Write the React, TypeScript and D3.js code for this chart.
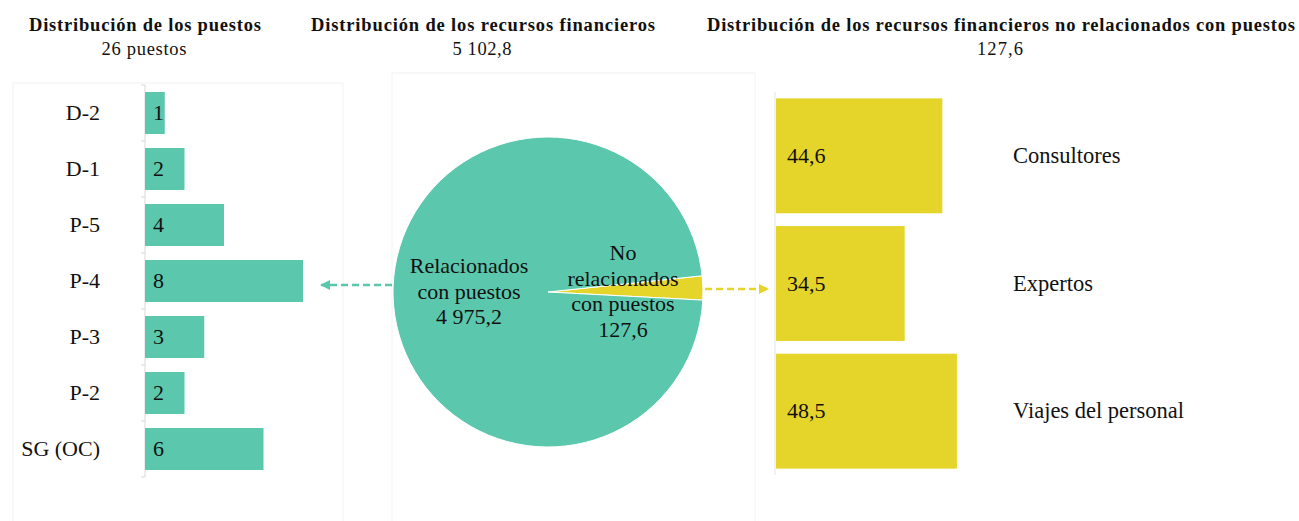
import React, { useEffect, useRef } from "react";
import * as d3 from "d3";

// Left panel: posts by grade
const gradeLabels = ["D-2", "D-1", "P-5", "P-4", "P-3", "P-2", "SG (OC)"];
const gradeCounts = [1, 2, 4, 8, 3, 2, 6];

// Middle panel: financial resources
const pieLabels = [
  ["No", "relacionados", "con puestos"],
  ["Relacionados", "con puestos"],
];
const pieValues = [127.6, 4975.2];

// Right panel: non-post resources
const costLabels = ["Consultores", "Expertos", "Viajes del personal"];
const costValues = [44.6, 34.5, 48.5];

// Panel headings
const panelTitles = [
  "Distribución de los puestos",
  "Distribución de los recursos financieros",
  "Distribución de los recursos financieros no relacionados con puestos",
];
const panelSubtitles = ["26 puestos", "5 102,8", "127,6"];

const TEAL = "#5bc8ad";
const YELLOW = "#e5d52a";
const FONT = "'Liberation Serif', 'Times New Roman', serif";

const esLocale = d3.formatLocale({
  decimal: ",",
  thousands: " ",
  grouping: [3],
  currency: ["", ""],
});
const fmt = esLocale.format(",.1f");

export default function App() {
  const ref = useRef<SVGSVGElement | null>(null);

  useEffect(() => {
    const w = 1299;
    const h = 521;
    const svg = d3.select(ref.current).html("").attr("width", w).attr("height", h);
    svg.style("font-family", FONT);

    svg.append("rect").attr("width", w).attr("height", h).attr("fill", "#fff");

    // faint panel frames
    const frames = svg.append("g").attr("fill", "none").attr("stroke", "#f2f2f2").attr("stroke-width", 1);
    frames.append("rect").attr("x", 13).attr("y", 83).attr("width", 330).attr("height", 450);
    frames.append("rect").attr("x", 392).attr("y", 73).attr("width", 363).attr("height", 460);

    // arrow markers
    const defs = svg.append("defs");
    [["arrTeal", TEAL], ["arrYellow", YELLOW]].forEach(([id, c]) => {
      defs
        .append("marker")
        .attr("id", id)
        .attr("viewBox", "0 0 10 10")
        .attr("refX", 9)
        .attr("refY", 5)
        .attr("markerWidth", 4)
        .attr("markerHeight", 4)
        .attr("orient", "auto")
        .append("path")
        .attr("d", "M0,0 L10,5 L0,10 z")
        .attr("fill", c);
    });

    // Titles
    const centers = [145, 483, 1001];
    const titleWidths = [232, 344, 588];
    const subWidths = [85, 59, 46];
    panelTitles.forEach((t, i) => {
      svg
        .append("text")
        .attr("x", centers[i])
        .attr("y", 31)
        .attr("text-anchor", "middle")
        .attr("font-size", 18.5)
        .attr("font-weight", "bold")
        .attr("fill", "#111")
        .attr("textLength", titleWidths[i])
        .attr("lengthAdjust", "spacing")
        .text(t);
      svg
        .append("text")
        .attr("x", centers[i] - 1)
        .attr("y", 55)
        .attr("text-anchor", "middle")
        .attr("font-size", 18.5)
        .attr("fill", "#111")
        .attr("textLength", subWidths[i])
        .attr("lengthAdjust", "spacing")
        .text(panelSubtitles[i]);
    });

    // ---- Left bar chart
    const xL = d3.scaleLinear().domain([0, d3.max(gradeCounts) as number]).range([145, 303]);
    const yL = d3
      .scaleBand<string>()
      .domain(gradeLabels)
      .range([85, 477])
      .paddingInner(0.25)
      .paddingOuter(0.125);

    const left = svg.append("g");
    left
      .append("line")
      .attr("x1", 145)
      .attr("x2", 145)
      .attr("y1", 85)
      .attr("y2", 477)
      .attr("stroke", "#d9d9d9");
    d3.range(gradeLabels.length + 1).forEach((i) => {
      const y = 85 + i * yL.step();
      left.append("line").attr("x1", 141).attr("x2", 145).attr("y1", y).attr("y2", y).attr("stroke", "#d9d9d9");
    });

    left
      .selectAll("rect.bar")
      .data(gradeCounts)
      .join("rect")
      .attr("class", "bar")
      .attr("x", xL(0))
      .attr("y", (_, i) => yL(gradeLabels[i]) as number)
      .attr("width", (d) => xL(d) - xL(0))
      .attr("height", yL.bandwidth())
      .attr("fill", TEAL);

    left
      .selectAll("text.val")
      .data(gradeCounts)
      .join("text")
      .attr("class", "val")
      .attr("x", xL(0) + 8)
      .attr("y", (_, i) => (yL(gradeLabels[i]) as number) + yL.bandwidth() / 2 + 7)
      .attr("font-size", 22)
      .attr("fill", "#111")
      .text((d) => d);

    left
      .selectAll("text.cat")
      .data(gradeLabels)
      .join("text")
      .attr("class", "cat")
      .attr("x", 100)
      .attr("y", (d) => (yL(d) as number) + yL.bandwidth() / 2 + 7)
      .attr("text-anchor", "end")
      .attr("font-size", 22)
      .attr("fill", "#111")
      .text((d) => d);

    // ---- Pie
    const cx = 548;
    const cy = 292;
    const r = 155;
    const start = (84 * Math.PI) / 180;
    const pie = d3
      .pie<number>()
      .sort(null)
      .value((d) => d)
      .startAngle(start)
      .endAngle(start + 2 * Math.PI);
    const arc = d3.arc<d3.PieArcDatum<number>>().innerRadius(0).outerRadius(r);
    const pg = svg.append("g").attr("transform", `translate(${cx},${cy})`);
    pg.selectAll("path")
      .data(pie(pieValues))
      .join("path")
      .attr("d", arc)
      .attr("fill", (_, i) => (i === 0 ? YELLOW : TEAL))
      .attr("stroke", "#fff")
      .attr("stroke-width", 1);

    // Pie labels
    const labelPos = [
      { x: 75, y: -32 },
      { x: -79, y: -19 },
    ];
    pieLabels.forEach((lines, i) => {
      const t = pg
        .append("text")
        .attr("text-anchor", "middle")
        .attr("font-size", 22)
        .attr("fill", "#111");
      [...lines, fmt(pieValues[i])].forEach((ln, j) => {
        t.append("tspan")
          .attr("x", labelPos[i].x)
          .attr("y", labelPos[i].y + j * 25.5)
          .text(ln);
      });
    });

    // Arrows
    svg
      .append("line")
      .attr("x1", cx - r - 1)
      .attr("x2", 321)
      .attr("y1", 285)
      .attr("y2", 285)
      .attr("stroke", TEAL)
      .attr("stroke-width", 2.5)
      .attr("stroke-dasharray", "7,4")
      .attr("marker-end", "url(#arrTeal)");
    svg
      .append("line")
      .attr("x1", cx + r + 2)
      .attr("x2", 768)
      .attr("y1", 289)
      .attr("y2", 289)
      .attr("stroke", YELLOW)
      .attr("stroke-width", 2.5)
      .attr("stroke-dasharray", "7,4")
      .attr("marker-end", "url(#arrYellow)");

    // ---- Right bar chart
    const xR = d3.scaleLinear().domain([0, 50]).range([775, 961.5]);
    const yR = d3
      .scaleBand<string>()
      .domain(costLabels)
      .range([92, 475])
      .paddingInner(0.1)
      .paddingOuter(0.05);

    const right = svg.append("g");
    right
      .append("line")
      .attr("x1", 775)
      .attr("x2", 775)
      .attr("y1", 92)
      .attr("y2", 475)
      .attr("stroke", "#e3e3e3");

    right
      .selectAll("rect")
      .data(costValues)
      .join("rect")
      .attr("x", xR(0) + 1)
      .attr("y", (_, i) => yR(costLabels[i]) as number)
      .attr("width", (d) => xR(d) - xR(0))
      .attr("height", yR.bandwidth())
      .attr("fill", YELLOW);

    right
      .selectAll("text.val")
      .data(costValues)
      .join("text")
      .attr("class", "val")
      .attr("x", 787)
      .attr("y", (_, i) => (yR(costLabels[i]) as number) + yR.bandwidth() / 2 + 7)
      .attr("font-size", 22)
      .attr("fill", "#111")
      .text((d) => fmt(d));

    right
      .selectAll("text.cat")
      .data(costLabels)
      .join("text")
      .attr("class", "cat")
      .attr("x", 1013)
      .attr("y", (d) => (yR(d) as number) + yR.bandwidth() / 2 + 7)
      .attr("font-size", 22.5)
      .attr("fill", "#111")
      .text((d) => d);
  }, []);

  return (
    <svg
      ref={ref}
      style={{ position: "absolute", left: 0, top: 0, display: "block" }}
    />
  );
}
